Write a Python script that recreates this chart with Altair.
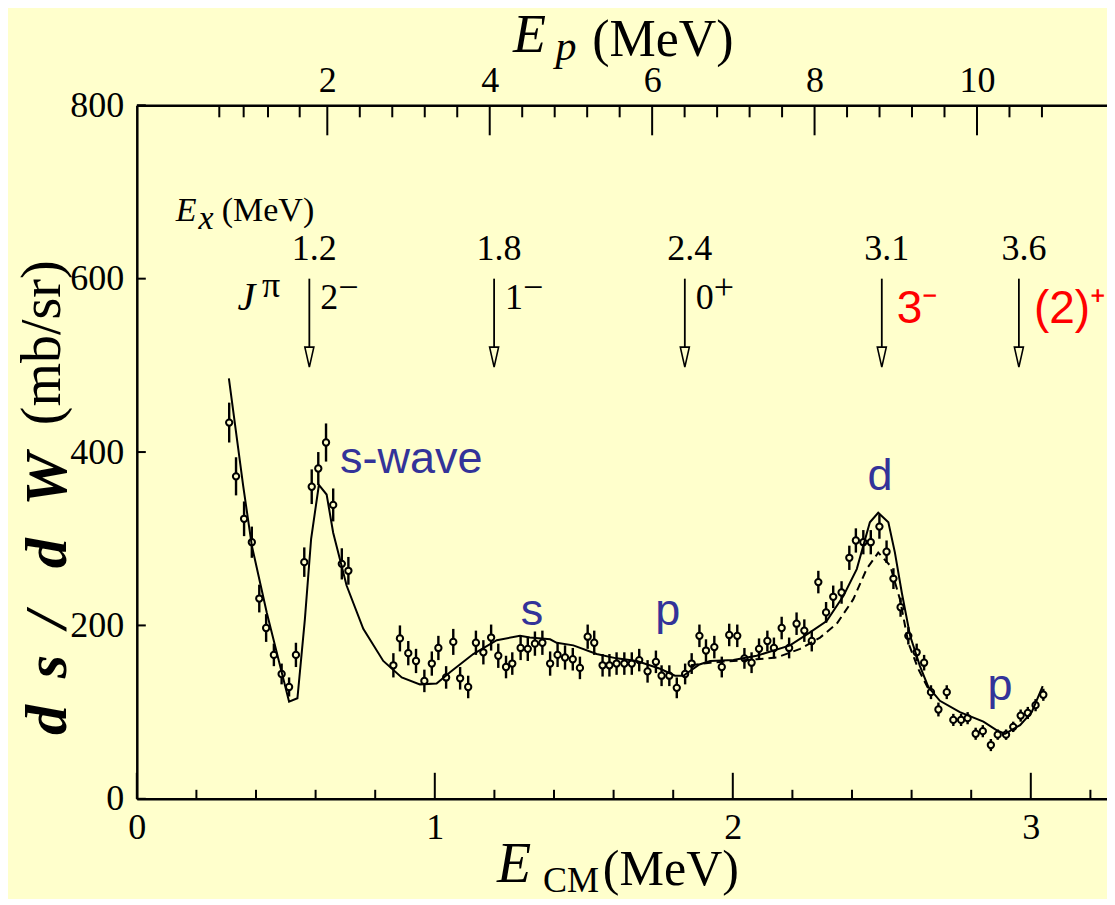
import altair as alt
import pandas as pd

BG = "#FFFFCC"
SERIF = "Liberation Serif"
SANS = "Liberation Sans"
BLUE = "#333399"
RED = "#FF0000"

# ---------------- data ----------------
e_cm = [0.310, 0.333, 0.360, 0.386, 0.411, 0.434, 0.460, 0.486, 0.511, 0.534, 0.562, 0.587, 0.609, 0.635, 0.659, 0.688, 0.710,
        0.861, 0.883, 0.911, 0.937, 0.965, 0.990, 1.012, 1.038, 1.062, 1.085, 1.112, 1.138, 1.163, 1.189, 1.213, 1.239, 1.260,
        1.288, 1.312, 1.336, 1.361, 1.387, 1.412, 1.437, 1.463, 1.487, 1.513, 1.535, 1.563, 1.586, 1.610, 1.636, 1.661, 1.686,
        1.714, 1.742, 1.761, 1.787, 1.812, 1.840, 1.862, 1.888, 1.910, 1.938, 1.963, 1.988, 2.015, 2.039, 2.063, 2.088, 2.116,
        2.138, 2.164, 2.189, 2.214, 2.240, 2.265, 2.287, 2.313, 2.337, 2.365, 2.391, 2.413, 2.438, 2.463, 2.492, 2.516, 2.539,
        2.563, 2.589, 2.617, 2.642, 2.665, 2.690, 2.718, 2.740, 2.766, 2.788, 2.815, 2.839, 2.866, 2.889, 2.917, 2.941, 2.966,
        2.990, 3.016, 3.042]
dsig = [434, 372, 323, 296, 231, 197, 166, 144, 129, 166, 273, 360, 381, 411, 339, 271, 263,
        154, 185, 168, 159, 136, 156, 174, 140, 181, 139, 129, 180, 169, 186, 165, 152, 156,
        174, 173, 179, 180, 156, 166, 163, 161, 151, 187, 180, 154, 154, 156, 156, 156, 160,
        147, 158, 142, 142, 128, 144, 156, 188, 171, 175, 152, 189, 188, 162, 157, 173, 182,
        174, 197, 174, 202, 194, 182, 250, 215, 233, 238, 278, 298, 296, 296, 314, 285, 254,
        221, 188, 169, 157, 123, 103, 123, 91, 91, 93, 75, 78, 62, 74, 74, 83, 96,
        99, 108, 120]
dsig_err = [23, 22, 20, 18, 16, 16, 13, 12, 11, 14, 17, 20, 19, 22, 19, 18, 16,
            14, 15, 14, 14, 13, 14, 14, 13, 15, 13, 13, 14, 14, 15, 14, 13, 13,
            14, 14, 14, 14, 14, 14, 14, 13, 13, 14, 14, 13, 13, 13, 13, 13, 13,
            13, 13, 12, 12, 12, 12, 12, 13, 13, 13, 12, 13, 13, 12, 12, 12, 12,
            12, 13, 12, 13, 13, 12, 13, 12, 13, 13, 14, 14, 14, 14, 14, 13, 12,
            11, 10, 10, 9, 8, 8, 8, 7, 7, 7, 7, 7, 7, 6, 6, 6, 7,
            7, 7, 7]

fit_e = [0.309, 0.357, 0.386, 0.436, 0.511, 0.539, 0.564, 0.585, 0.611, 0.637, 0.659, 0.704, 0.760, 0.827,
         0.889, 0.950, 1.006, 1.051, 1.129, 1.208, 1.286, 1.319, 1.387, 1.409, 1.465, 1.543, 1.610, 1.678,
         1.756, 1.806, 1.834, 1.888, 1.924, 2.002, 2.080, 2.192, 2.259, 2.315, 2.371, 2.416, 2.460, 2.488,
         2.522, 2.544, 2.567, 2.595, 2.628, 2.656, 2.695, 2.762, 2.841, 2.886, 2.913, 2.964, 3.003, 3.040]
fit_s = [485, 361, 292, 215, 112, 116, 207, 300, 362, 351, 307, 246, 196, 159,
         140, 132, 133, 146, 167, 183, 188, 186, 184, 180, 177, 167, 162, 159,
         150, 142, 142, 155, 159, 160, 165, 177, 192, 205, 234, 265, 319, 330,
         319, 284, 238, 188, 153, 129, 113, 100, 89, 79, 75, 85, 100, 130]

fit2_e = [1.859, 1.924, 2.002, 2.080, 2.147, 2.226, 2.293, 2.349, 2.404, 2.449, 2.488, 2.528, 2.561,
          2.589, 2.622, 2.656]
fit2_s = [154, 157, 159, 161, 163, 173, 186, 202, 230, 265, 284, 269, 230,
          180, 150, 127]

# excited levels
ex_labels = ["1.2", "1.8", "2.4", "3.1", "3.6"]
ex_ecm = [0.579, 1.199, 1.839, 2.500, 2.960]
jpi_black_ecm = [0.579, 1.199, 1.839]
jpi_black_num = ["2", "1", "0"]
jpi_black_sign = ["\u2212", "\u2212", "+"]
jpi_red_ecm = [2.500, 2.960]
jpi_red_text = ["3\u207b", "(2)\u207a"]

# partial-wave labels
wave_text = ["s-wave", "s", "p", "d", "p"]
wave_ecm = [0.682, 1.326, 1.782, 2.494, 2.897]
wave_sig = [376, 201, 201, 356, 114]
wave_align = ["left", "center", "center", "center", "center"]

# y-axis title glyphs (spread out as in the figure)
ytitle_chars = ["d", "s", "/", "d", "W"]
ytitle_pos = [73.6, 139, 197, 266, 338]

# axes
x_major = [0, 1, 2, 3]
x_minor = [0.2, 0.4, 0.6, 0.8, 1.2, 1.4, 1.6, 1.8, 2.2, 2.4, 2.6, 2.8, 3.2]
y_major = [0, 200, 400, 600, 800]
ep_major = [2, 4, 6, 8, 10]
ep_minor = [0.67, 0.97, 1.27, 1.66, 2.4, 2.8, 3.2, 3.6, 4.4, 4.8, 5.2, 5.6, 6.4, 6.8, 7.2, 7.6,
            8.4, 8.8, 9.2, 9.6, 10.4, 10.8]

# ---------------- layout ----------------
W, H = 970.2, 693.5
X_DOM = [0, 3.2557]
Y_DOM = [0, 800]
EP_DOM = [-0.3458, 11.601]

XAX = alt.Axis(values=x_major, ticks=False, grid=False, domain=True, domainColor="black",
               domainWidth=2.5, labelFont=SERIF, labelFontSize=36, labelColor="black",
               labelPadding=12, labelFlush=False, format="d", title=None)
YAX = alt.Axis(values=y_major, ticks=False, grid=False, domain=True, domainColor="black",
               domainWidth=2.5, labelFont=SERIF, labelFontSize=36, labelColor="black",
               labelPadding=13, labelFlush=False, format="d", title=None)
XS = alt.Scale(domain=X_DOM, nice=False, zero=False)
YS = alt.Scale(domain=Y_DOM, nice=False, zero=False)


def X(field):
    return alt.X(field, type="quantitative", scale=XS, axis=XAX)


def Y(field):
    return alt.Y(field, type="quantitative", scale=YS, axis=YAX)


def XD(v):
    return alt.X(datum=v, type="quantitative", scale=XS, axis=XAX)


def YD(v):
    return alt.Y(datum=v, type="quantitative", scale=YS, axis=YAX)


one = alt.Data(values=[{"k": 0}])


def label(text, x, y, size, font=SERIF, style="normal", weight="normal", color="black",
          align="left", angle=0, baseline="alphabetic"):
    return alt.Chart(one).mark_text(
        text=text, font=font, fontSize=size, fontStyle=style, fontWeight=weight,
        color=color, align=align, baseline=baseline, angle=angle
    ).encode(x=XD(x), y=YD(y))


pts_df = pd.DataFrame({"E": e_cm, "S": dsig, "err": dsig_err})
pts_df["lo"] = pts_df["S"] - pts_df["err"]
pts_df["hi"] = pts_df["S"] + pts_df["err"]
fit_df = pd.DataFrame({"E": fit_e, "S": fit_s})
fit2_df = pd.DataFrame({"E": fit2_e, "S": fit2_s})

errbars = alt.Chart(pts_df).mark_rule(color="black", strokeWidth=2.4).encode(
    x=X("E"), y=Y("lo"), y2="hi")
points = alt.Chart(pts_df).mark_point(shape="circle", size=40, filled=False, stroke="black",
                                      strokeWidth=2, fill=BG, fillOpacity=1).encode(x=X("E"), y=Y("S"))
solid = alt.Chart(fit_df).mark_line(color="black", strokeWidth=2).encode(x=X("E"), y=Y("S"))
dashed = alt.Chart(fit2_df).mark_line(color="black", strokeWidth=2, strokeDash=[8, 5]).encode(
    x=X("E"), y=Y("S"))

# inward ticks
xmaj_df = pd.DataFrame({"v": x_major})
xmin_df = pd.DataFrame({"v": x_minor})
ymaj_df = pd.DataFrame({"v": y_major})
xmaj_t = alt.Chart(xmaj_df).mark_rule(color="black", strokeWidth=2).encode(
    x=X("v"), y=alt.value(H), y2=alt.value(H - 26))
xmin_t = alt.Chart(xmin_df).mark_rule(color="black", strokeWidth=2).encode(
    x=X("v"), y=alt.value(H), y2=alt.value(H - 9))
ymaj_t = alt.Chart(ymaj_df).mark_rule(color="black", strokeWidth=2).encode(
    y=Y("v"), x=alt.value(0), x2=alt.value(9))

# level arrows
lev_df = pd.DataFrame({"E": ex_ecm, "lab": ex_labels})
arrow_line = alt.Chart(lev_df).mark_rule(color="black", strokeWidth=1.8).encode(
    x=X("E"), y=YD(600), y2=alt.datum(521))
arrow_head = alt.Chart(lev_df).mark_point(shape="M-0.45,-1L0.45,-1L0,1Z", size=400, filled=True,
                                          fill=BG, stroke="black", strokeWidth=1.6, opacity=1).encode(
    x=X("E"), y=YD(509.5))
ex_text = alt.Chart(lev_df).mark_text(font=SERIF, fontSize=36, color="black", align="center",
                                      baseline="alphabetic", dx=5).encode(
    x=X("E"), y=YD(621.5), text="lab:N")

jb_df = pd.DataFrame({"E": jpi_black_ecm, "num": jpi_black_num, "sign": jpi_black_sign})
jb_num = alt.Chart(jb_df).mark_text(font=SERIF, fontSize=36, color="black", align="left",
                                    baseline="alphabetic", dx=11).encode(
    x=X("E"), y=YD(565), text="num:N")
jb_sign = alt.Chart(jb_df).mark_text(font=SERIF, fontSize=36, color="black", align="left",
                                     baseline="alphabetic", dx=29).encode(
    x=X("E"), y=YD(577), text="sign:N")
jr_df = pd.DataFrame({"E": jpi_red_ecm, "t": jpi_red_text})
jr_text = alt.Chart(jr_df).mark_text(font=SANS, fontSize=46, color=RED, align="left",
                                     baseline="alphabetic", dx=15).encode(
    x=X("E"), y=YD(549), text="t:N")

wave_df = pd.DataFrame({"E": wave_ecm, "S": wave_sig, "t": wave_text, "al": wave_align})
wave_left = alt.Chart(wave_df[wave_df["al"] == "left"]).mark_text(
    font=SANS, fontSize=45, color=BLUE, align="left", baseline="alphabetic").encode(
    x=X("E"), y=Y("S"), text="t:N")
wave_center = alt.Chart(wave_df[wave_df["al"] == "center"]).mark_text(
    font=SANS, fontSize=45, color=BLUE, align="center", baseline="alphabetic").encode(
    x=X("E"), y=Y("S"), text="t:N")

yt_df = pd.DataFrame({"c": ytitle_chars, "p": ytitle_pos})
ytitle_glyphs = alt.Chart(yt_df).mark_text(
    font=SERIF, fontSize=60, fontStyle="italic", fontWeight="bold", color="black",
    align="left", baseline="alphabetic", angle=270).encode(
    x=XD(-0.2376), y=Y("p"), text="c:N")

texts = [
    # E_x (MeV)
    label("E", 0.131, 666.5, 34, style="italic"),
    label("x", 0.207, 657, 34, style="italic"),
    label("(MeV)", 0.285, 667, 34),
    # J^pi
    label("J", 0.338, 564, 40, style="italic"),
    label("\u03c0", 0.420, 579, 36),
    # bottom title
    label("E", 1.2087, -96, 56, style="italic"),
    label("CM", 1.363, -107.5, 36),
    label("(MeV)", 1.564, -99, 50),
    # top title
    label("E", 1.262, 862, 54, style="italic"),
    label("p", 1.405, 852, 42, style="italic"),
    label("(MeV)", 1.528, 857, 52),
    # y title
    label("(mb/sr)", -0.258, 431, 56, angle=270),
]

main = alt.layer(errbars, points, solid, dashed, xmaj_t, xmin_t, ymaj_t,
                 arrow_line, arrow_head, ex_text, jb_num, jb_sign, jr_text,
                 wave_left, wave_center, ytitle_glyphs, *texts)

# top E_p axis (independent x scale)
EPS = alt.Scale(domain=EP_DOM, nice=False, zero=False)
EPAX = alt.Axis(orient="top", values=ep_major, ticks=False, grid=False, domain=True,
                domainColor="black", domainWidth=2.5, labelFont=SERIF, labelFontSize=36,
                labelColor="black", labelPadding=6, labelFlush=False, format="d", title=None)
epmaj_df = pd.DataFrame({"Ep": ep_major})
epmin_df = pd.DataFrame({"Ep": ep_minor})
ep_maj = alt.Chart(epmaj_df).mark_rule(color="black", strokeWidth=2).encode(
    x=alt.X("Ep:Q", scale=EPS, axis=EPAX), y=alt.value(0), y2=alt.value(30))
ep_min = alt.Chart(epmin_df).mark_rule(color="black", strokeWidth=2).encode(
    x=alt.X("Ep:Q", scale=EPS, axis=EPAX), y=alt.value(0), y2=alt.value(12))
top = alt.layer(ep_maj, ep_min)

chart = alt.layer(main, top).resolve_scale(x="independent").properties(
    width=W, height=H,
    autosize=alt.AutoSizeParams(type="none"),
    padding={"left": 128.8, "top": 97.3, "right": 0, "bottom": 100},
    background=BG,
).configure_view(stroke=None)

chart.save("out.html", embed_options={"renderer": "svg", "actions": False})
